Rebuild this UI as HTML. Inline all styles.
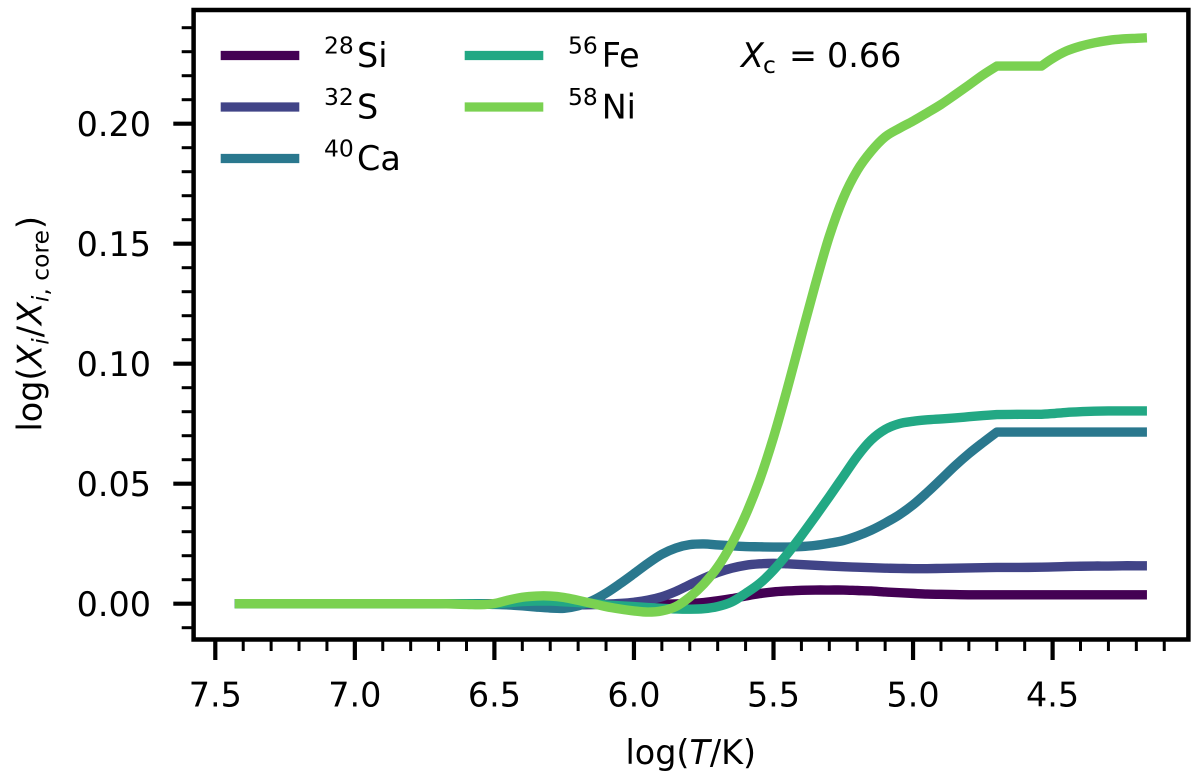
<!DOCTYPE html>
<html lang="en">
<head>
<meta charset="utf-8">
<title>Abundance profiles</title>
<style>
html,body{margin:0;padding:0;background:#fff;width:1200px;height:780px;overflow:hidden}
svg{display:block}
text{font-family:"DejaVu Sans",sans-serif;fill:#000}
</style>
</head>
<body>
<svg id="chart" xmlns="http://www.w3.org/2000/svg" width="1200" height="780" viewBox="0 0 1200 780">
  <rect x="0" y="0" width="1200" height="780" fill="#fff"/>
  <g id="series-layer" fill="none"></g>
  <g id="ticks-layer"></g>
  <rect x="193.6" y="10" width="994.8" height="629.5" fill="none" stroke="#000" stroke-width="4.5"/>

  <text transform="translate(41.7,431.5) rotate(-90)" font-size="33.4">log(<tspan font-style="italic">X</tspan><tspan font-style="italic" font-size="23.4" dy="7">i</tspan><tspan dx="1" dy="-7">/</tspan><tspan dx="1" font-style="italic">X</tspan><tspan font-size="23.4" dy="7"><tspan font-style="italic">i</tspan>, core</tspan><tspan dx="1" dy="-7">)</tspan></text>
  <text x="625.5" y="764" font-size="33.4">log(<tspan font-style="italic">T</tspan>/K)</text>

  <g>
    <g>
      <line x1="220.7" x2="299.3" y1="55.5" y2="55.5" stroke="#440154" stroke-width="9.2"/>
      <text x="324" y="67" font-size="33.4"><tspan font-size="23.4" dy="-13.5">28</tspan><tspan x="357" dy="13.5">Si</tspan></text>
    </g>
    <g>
      <line x1="220.7" x2="299.3" y1="107" y2="107" stroke="#414487" stroke-width="9.2"/>
      <text x="324" y="118.5" font-size="33.4"><tspan font-size="23.4" dy="-13.5">32</tspan><tspan x="357" dy="13.5">S</tspan></text>
    </g>
    <g>
      <line x1="220.7" x2="299.3" y1="158.5" y2="158.5" stroke="#2a788e" stroke-width="9.2"/>
      <text x="324" y="170" font-size="33.4"><tspan font-size="23.4" dy="-13.5">40</tspan><tspan x="357" dy="13.5">Ca</tspan></text>
    </g>
    <g>
      <line x1="464.7" x2="543.3" y1="55.5" y2="55.5" stroke="#22a884" stroke-width="9.2"/>
      <text x="568" y="67" font-size="33.4"><tspan font-size="23.4" dy="-13.5">56</tspan><tspan x="601.7" dy="13.5">Fe</tspan></text>
    </g>
    <g>
      <line x1="464.7" x2="543.3" y1="107" y2="107" stroke="#7ad151" stroke-width="9.2"/>
      <text x="568" y="118.5" font-size="33.4"><tspan font-size="23.4" dy="-13.5">58</tspan><tspan x="601.7" dy="13.5">Ni</tspan></text>
    </g>
  </g>

  <text x="741" y="67" font-size="33.4"><tspan font-style="italic">X</tspan><tspan font-size="23.4" x="763" dy="6">c</tspan><tspan x="789" dy="-6">=</tspan><tspan x="827">0.66</tspan></text>
</svg>

<script>
var xTickValues = [7.5, 7.0, 6.5, 6.0, 5.5, 5.0, 4.5];
var xTickLabels = ["7.5", "7.0", "6.5", "6.0", "5.5", "5.0", "4.5"];
var xMinorTicks = [7.4, 7.3, 7.2, 7.1, 6.9, 6.8, 6.7, 6.6, 6.4, 6.3, 6.2, 6.1, 5.9, 5.8, 5.7, 5.6, 5.4, 5.3, 5.2, 5.1, 4.9, 4.8, 4.7, 4.6, 4.4, 4.3, 4.2, 4.1];
var yTickValues = [0, 0.05, 0.10, 0.15, 0.20];
var yTickLabels = ["0.00", "0.05", "0.10", "0.15", "0.20"];
var yMinorTicks = [-0.01, 0.01, 0.02, 0.03, 0.04, 0.06, 0.07, 0.08, 0.09, 0.11, 0.12, 0.13, 0.14, 0.16, 0.17, 0.18, 0.19, 0.21, 0.22, 0.23, 0.24];

var seriesNames = ["si28", "s32", "ca40", "fe56", "ni58"];
var seriesColors = ["#440154", "#414487", "#2a788e", "#22a884", "#7ad151"];
var kinkLogT = [4.7, 4.54];

var logT = [7.43,7.2,7.0,6.8,6.7,6.6,6.55,6.5,6.45,6.4,6.35,6.3,6.25,6.2,6.15,6.1,6.05,6.0,5.95,5.9,5.85,5.8,5.75,5.7,5.65,5.6,5.55,5.5,5.45,5.4,5.35,5.3,5.25,5.2,5.15,5.1,5.05,5.0,4.95,4.9,4.85,4.8,4.75,4.7,4.62,4.54,4.5,4.45,4.4,4.35,4.3,4.25,4.2,4.162];
var si28 = [0,0,0,0,0,0,0,0,0,0,-0.0001,-0.0001,-0.0002,-0.0002,-0.0002,-0.0002,-0.0002,-0.0002,-0.0002,-0.0002,-0.0001,0.0001,0.0005,0.0012,0.0021,0.0032,0.0042,0.0049,0.0053,0.0056,0.0057,0.0057,0.0057,0.0055,0.0053,0.0049,0.0046,0.0043,0.004,0.0039,0.0038,0.0037,0.0037,0.0037,0.0037,0.0037,0.0037,0.0037,0.0037,0.0037,0.0037,0.0037,0.0037,0.0037];
var s32 = [0,0,0,0,0,0,0,0,-0.0001,-0.0002,-0.0003,-0.0004,-0.0005,-0.0005,-0.0004,-0.0002,0.0001,0.0006,0.0015,0.0029,0.0051,0.0079,0.0106,0.013,0.0148,0.016,0.0166,0.0168,0.0166,0.0163,0.016,0.0157,0.0154,0.0152,0.015,0.0148,0.0147,0.0146,0.0146,0.0147,0.0148,0.0149,0.015,0.0151,0.0151,0.0152,0.0153,0.0155,0.0156,0.0157,0.0157,0.0158,0.0158,0.0158];
var ca40 = [0,0,0,0,0,-0.0001,-0.0001,-0.0003,-0.0005,-0.0009,-0.0014,-0.0018,-0.0019,-0.0009,0.0012,0.0044,0.0083,0.0125,0.0168,0.0206,0.0232,0.0246,0.0249,0.0245,0.0241,0.0238,0.0237,0.0236,0.0236,0.0238,0.0243,0.0252,0.0263,0.0282,0.0306,0.0336,0.037,0.0412,0.0463,0.0518,0.0574,0.0625,0.0671,0.0715,0.0715,0.0715,0.0715,0.0715,0.0715,0.0715,0.0715,0.0715,0.0715,0.0715];
var fe56 = [0,0,0,0,0,0,-0.0001,-0.0001,0.0004,0.0009,0.0011,0.0011,0.0008,0.0005,0.0001,-0.0005,-0.0009,-0.0012,-0.0016,-0.0019,-0.0022,-0.0023,-0.0021,-0.0012,0.0007,0.0043,0.0084,0.014,0.0208,0.0284,0.0364,0.0446,0.053,0.0614,0.0682,0.0726,0.075,0.076,0.0766,0.077,0.0774,0.0779,0.0784,0.0788,0.0789,0.0789,0.0792,0.0797,0.08,0.0802,0.0803,0.0803,0.0803,0.0803];
var ni58 = [0,0,0,0,0,-0.0003,-0.0004,0.0001,0.0015,0.0027,0.0032,0.0032,0.0026,0.0014,0.0001,-0.0012,-0.0022,-0.003,-0.0035,-0.003,-0.0012,0.0028,0.0082,0.0153,0.0249,0.0369,0.0515,0.0693,0.0898,0.1116,0.1331,0.1531,0.169,0.1805,0.1885,0.1945,0.198,0.2011,0.2045,0.208,0.212,0.2161,0.2203,0.224,0.224,0.224,0.2272,0.2303,0.2323,0.2337,0.2347,0.2353,0.2356,0.2358];

var allSeries = [si28, s32, ca40, fe56, ni58];
var SVG_NS = "http://www.w3.org/2000/svg";

function xScale(v) { return 215.3 + (7.5 - v) * 279.1; }
function yScale(v) { return 603.7 - v * 2400; }
function isKink(v) { return kinkLogT.indexOf(v) !== -1; }

function buildPath(values) {
  var pts = logT.map(function (t, i) { return [xScale(t), yScale(values[i])]; });
  var d = "M" + pts[0][0].toFixed(2) + " " + pts[0][1].toFixed(2);
  for (var i = 0; i < pts.length - 1; i++) {
    var p0 = pts[Math.max(i - 1, 0)], p1 = pts[i], p2 = pts[i + 1], p3 = pts[Math.min(i + 2, pts.length - 1)];
    var c1 = isKink(logT[i]) ? p1 : [p1[0] + (p2[0] - p0[0]) / 6, p1[1] + (p2[1] - p0[1]) / 6];
    var c2 = isKink(logT[i + 1]) ? p2 : [p2[0] - (p3[0] - p1[0]) / 6, p2[1] - (p3[1] - p1[1]) / 6];
    d += "C" + c1[0].toFixed(2) + " " + c1[1].toFixed(2) + " " + c2[0].toFixed(2) + " " + c2[1].toFixed(2) + " " + p2[0].toFixed(2) + " " + p2[1].toFixed(2);
  }
  return d;
}

var seriesLayer = document.getElementById("series-layer");
allSeries.forEach(function (values, i) {
  var path = document.createElementNS(SVG_NS, "path");
  path.setAttribute("d", buildPath(values));
  path.setAttribute("stroke", seriesColors[i]);
  path.setAttribute("stroke-width", "9.4");
  path.setAttribute("stroke-linejoin", "round");
  
  
  seriesLayer.appendChild(path);
});

var ticksLayer = document.getElementById("ticks-layer");

function addTick(x1, y1, x2, y2, width, name) {
  var line = document.createElementNS(SVG_NS, "line");
  line.setAttribute("x1", x1);
  line.setAttribute("y1", y1);
  line.setAttribute("x2", x2);
  line.setAttribute("y2", y2);
  line.setAttribute("stroke", "#000");
  line.setAttribute("stroke-width", width);
  
  
  ticksLayer.appendChild(line);
}

function addLabel(x, y, anchor, str, name) {
  var text = document.createElementNS(SVG_NS, "text");
  text.setAttribute("x", x);
  text.setAttribute("y", y);
  text.setAttribute("text-anchor", anchor);
  text.setAttribute("font-size", "33.4");
  text.textContent = str;
  
  
  ticksLayer.appendChild(text);
}

xTickValues.forEach(function (v, i) {
  addTick(xScale(v), 639.5, xScale(v), 660, 4.2, "x-major-tick");
  addLabel(xScale(v), 706.5, "middle", xTickLabels[i], "x-tick-label");
});
xMinorTicks.forEach(function (v) {
  addTick(xScale(v), 639.5, xScale(v), 651, 3, "x-minor-tick");
});
yTickValues.forEach(function (v, i) {
  addTick(193.6, yScale(v), 173.3, yScale(v), 4.2, "y-major-tick");
  addLabel(151, yScale(v) + 12.3, "end", yTickLabels[i], "y-tick-label");
});
yMinorTicks.forEach(function (v) {
  addTick(193.6, yScale(v), 181.7, yScale(v), 3, "y-minor-tick");
});
</script>
</body>
</html>
